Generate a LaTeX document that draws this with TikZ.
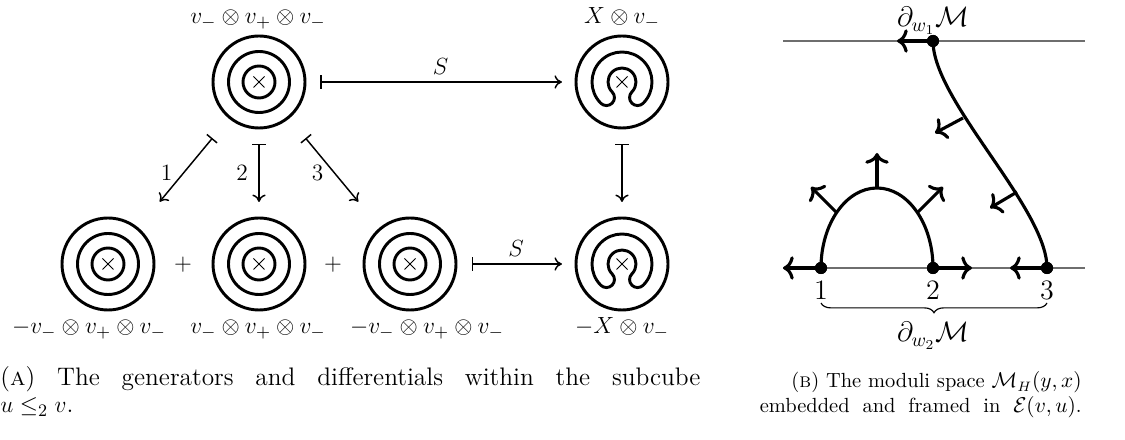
\documentclass[tikz,border=0pt]{standalone}
\usepackage{amsmath,amssymb}
\usetikzlibrary{arrows.meta,calc,decorations.pathreplacing}
\definecolor{ink}{HTML}{000000}
\definecolor{rule}{HTML}{6E6E6E}

% generator pictures, drawn round a named node
\newcommand{\rings}[1]{%
  \begin{scope}[shift={(#1)}]
    \draw[ringline] (0,0) circle (46) (0,0) circle (30.5) (0,0) circle (16);
    \draw[crossline] (-5.5,-5.5) -- (5.5,5.5) (-5.5,5.5) -- (5.5,-5.5);
  \end{scope}}
\newcommand{\shoe}[1]{%
  \begin{scope}[shift={(#1)}]
    \draw[ringline] (0,0) circle (46);
    \draw[ringline] (225:30) arc[start angle=225, end angle=-45, radius=30]
        arc[start angle=-45, end angle=-225, radius=8]
        arc[start angle=-45, end angle=225, radius=14]
        arc[start angle=45, end angle=-135, radius=8] -- cycle;
    \draw[crossline] (-5.5,-5.5) -- (5.5,5.5) (-5.5,5.5) -- (5.5,-5.5);
  \end{scope}}

\begin{document}
\begin{tikzpicture}[
    x=0.5128pt, y=0.5128pt,
    font=\fontsize{12.5}{15}\selectfont,
    gen/.style={circle, minimum size=47.2pt, inner sep=0pt, outer sep=0pt},
    ringline/.style={line width=1.5pt},
    crossline/.style={line width=0.5pt},
    mapsto/.style={{Bar[width=6.8pt]}-{Computer Modern Rightarrow[length=3.8pt,width=6.8pt]}, line width=0.75pt},
    tag/.style={inner sep=0pt, anchor=base},
    axisline/.style={draw=rule, line width=0.8pt},
    sheet/.style={line width=1.6pt},
    frame/.style={-{Computer Modern Rightarrow[length=5.5pt,width=12pt]}, line width=1.6pt},
    dot/.style={circle, fill=ink, minimum size=6.2pt, inner sep=0pt},
    brace/.style={decorate, decoration={brace, amplitude=5pt}, line width=0.6pt},
    rlabel/.style={font=\fontsize{14}{17}\selectfont},
    capA/.style={font=\fontsize{13}{15.5}\selectfont, inner sep=0pt, anchor=base west},
    capB/.style={font=\fontsize{10.5}{12.5}\selectfont, inner sep=0pt, anchor=base east}
]
\useasboundingbox (0,0) rectangle (1125,440);

% (a) generators of the subcube
\node[gen] (g0) at (259,358) {};
\node[gen] (g4) at (622,358) {};
\node[gen] (g1) at (108,176) {};
\node[gen] (g2) at (259,176) {};
\node[gen] (g3) at (410,176) {};
\node[gen] (g5) at (622,176) {};
\rings{g0} \rings{g1} \rings{g2} \rings{g3}
\shoe{g4} \shoe{g5}

\node[tag] (l0) at (258,416) {$v_-\otimes v_+\otimes v_-$};
\node[tag] (l4) at (622,416) {$X\otimes v_-$};
\node[tag] (l1) at (89,106) {$-v_-\otimes v_+\otimes v_-$};
\node[tag] (l2) at (258,106) {$v_-\otimes v_+\otimes v_-$};
\node[tag] (l3) at (427,106) {$-v_-\otimes v_+\otimes v_-$};
\node[tag] (l5) at (622,106) {$-X\otimes v_-$};
\node (plusA) at (183,175) {$+$};
\node (plusB) at (333,175) {$+$};

\draw[mapsto, shorten <=7.7pt, shorten >=7.2pt] (g0) -- node[above] {$S$} (g4);
\draw[mapsto, shorten <=8.2pt, shorten >=7.2pt] (g3) -- node[above] {$S$} (g5);
\draw[mapsto, shorten <=8.2pt, shorten >=8.2pt] (g4) -- (g5);
\draw[mapsto, shorten <=13.8pt, shorten >=17.9pt] (g0) -- node[left=2pt] {$1$} (g1);
\draw[mapsto, shorten <=8.2pt, shorten >=8.2pt] (g0) -- node[left=2pt] {$2$} (g2);
\draw[mapsto, shorten <=13.8pt, shorten >=17.9pt] (g0) -- node[left=2pt] {$3$} (g3);

% (b) the moduli space and its framing
\coordinate (topA) at (783,399);
\coordinate (topB) at (1085,399);
\coordinate (botA) at (783,172);
\coordinate (botB) at (1085,172);
\draw[axisline] (topA) -- (topB);
\draw[axisline] (botA) -- (botB);

\node[dot] (q) at (933,399) {};
\node[dot] (p1) at (821,172) {};
\node[dot] (p2) at (933,172) {};
\node[dot] (p3) at (1047,172) {};

\coordinate (qL) at (897,399);
\coordinate (p1L) at (783,172);
\coordinate (p2R) at (972,172);
\coordinate (p3L) at (1010,172);
\coordinate (capTop) at (877,252);
\coordinate (capTopT) at (877,287);
\coordinate (capLeft) at (836,228);
\coordinate (capLeftT) at (811,253);
\coordinate (capRight) at (918,228);
\coordinate (capRightT) at (943,253);
\coordinate (sUp) at (963,322);
\coordinate (sUpT) at (935,307);
\coordinate (sLow) at (1017,248);
\coordinate (sLowT) at (990,232);

\draw[sheet] (p1.center) arc[start angle=180, end angle=0, x radius=56, y radius=80];
\draw[sheet] (q.center) .. controls +(0,-60) and +(0,60) .. (p3.center);

\draw[frame] (q.center) -- (qL);
\draw[frame] (p1.center) -- (p1L);
\draw[frame] (p2.center) -- (p2R);
\draw[frame] (p3.center) -- (p3L);
\draw[frame] (capTop) -- (capTopT);
\draw[frame] (capLeft) -- (capLeftT);
\draw[frame] (capRight) -- (capRightT);
\draw[frame] (sUp) -- (sUpT);
\draw[frame] (sLow) -- (sLowT);

\node[dot] at (q) {};
\node[dot] at (p1) {};
\node[dot] at (p2) {};
\node[dot] at (p3) {};

\node[rlabel, tag] (w1) at (933,413) {$\partial_{w_1}\mathcal{M}$};
\node[rlabel] (n1) at (821,150) {$1$};
\node[rlabel] (n2) at (933,150) {$2$};
\node[rlabel] (n3) at (1047,150) {$3$};
\draw[brace] (1047,137) -- (821,137);
\node[rlabel, tag] (w2) at (933,98) {$\partial_{w_2}\mathcal{M}$};

% captions
\node[capA] (capA1) at (0,54)
    {\makebox[359pt][s]{(\textsc{a}) The generators and differentials within the subcube}};
\node[capA] (capA2) at (0,27) {$u\leq_2 v$.};
\node[capB] (capB1) at (1082,52) {(\textsc{b}) The moduli space $\mathcal{M}_H(y,x)$};
\node[capB] (capB2) at (1082,27)
    {\makebox[165pt][s]{embedded and framed in $\mathcal{E}(v,u)$.}};

\end{tikzpicture}
\end{document}
